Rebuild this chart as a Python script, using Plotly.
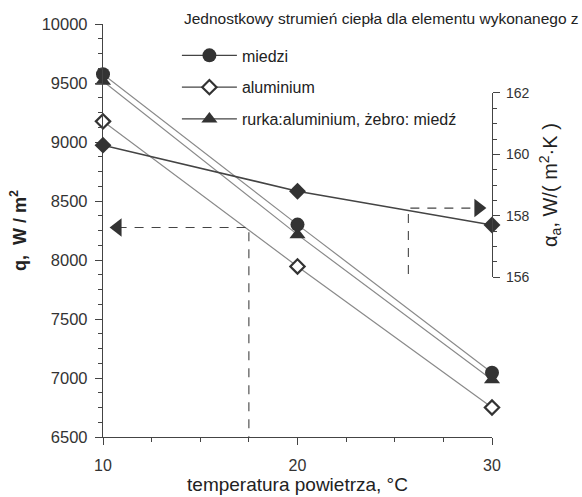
import plotly.graph_objects as go

temp = [10, 20, 30]
q_miedz = [9575, 8300, 7045]
q_alu = [9175, 7945, 6750]
q_rurka = [9515, 8215, 6985]
alpha = [160.3, 158.8, 157.7]

# read-off helper lines (dashed) and arrows
left_read_x = [10.75, 17.5, 17.5]
left_read_q = [8275, 8275, 6500]
right_read_x = [25.7, 25.7, 29.3]
right_read_a = [156.1, 158.25, 158.25]

names = ["miedzi", "aluminium", "rurka:aluminium, żebro: miedź"]
legend_title = "Jednostkowy strumień ciepła dla elementu wykonanego z"

DARK = "#333333"
GRAY = "#8a8a8a"
FONT = "Liberation Sans, Arial, sans-serif"

fig = go.Figure()

# q series
fig.add_trace(go.Scatter(x=temp, y=q_alu, mode="lines+markers", showlegend=False,
                         line=dict(color=GRAY, width=1.2), cliponaxis=False,
                         marker=dict(symbol="diamond", size=11, color="white",
                                     line=dict(color=DARK, width=2.2))))
fig.add_trace(go.Scatter(x=temp, y=q_rurka, mode="lines+markers", showlegend=False,
                         line=dict(color=GRAY, width=1.2), cliponaxis=False,
                         marker=dict(symbol="triangle-up", size=14, color=DARK)))
fig.add_trace(go.Scatter(x=temp, y=q_miedz, mode="lines+markers", showlegend=False,
                         line=dict(color=GRAY, width=1.2), cliponaxis=False,
                         marker=dict(symbol="circle", size=14, color=DARK)))

# alpha series (right axis)
fig.add_trace(go.Scatter(x=temp, y=alpha, yaxis="y2", mode="lines+markers", showlegend=False,
                         line=dict(color="#444444", width=1.6), cliponaxis=False,
                         marker=dict(symbol="diamond", size=13, color=DARK)))

# dashed read-off lines
fig.add_trace(go.Scatter(x=left_read_x, y=left_read_q, mode="lines", showlegend=False,
                         line=dict(color="#444444", width=1.1, dash="9px,8px"), cliponaxis=False))
fig.add_trace(go.Scatter(x=[left_read_x[0]], y=[left_read_q[0]], mode="markers", showlegend=False,
                         cliponaxis=False,
                         marker=dict(symbol="triangle-left", size=16, color=DARK)))
fig.add_trace(go.Scatter(x=right_read_x, y=right_read_a, yaxis="y2", mode="lines", showlegend=False,
                         line=dict(color="#444444", width=1.1, dash="9px,8px"), cliponaxis=False))
fig.add_trace(go.Scatter(x=[right_read_x[-1]], y=[right_read_a[-1]], yaxis="y2", mode="markers",
                         showlegend=False, cliponaxis=False,
                         marker=dict(symbol="triangle-right", size=16, color=DARK)))

# legend entries
leg_markers = [dict(symbol="circle", size=14, color=DARK),
               dict(symbol="diamond", size=11, color="white", line=dict(color=DARK, width=2.2)),
               dict(symbol="triangle-up", size=14, color=DARK)]
for i, (nm, mk) in enumerate(zip(names, leg_markers)):
    fig.add_trace(go.Scatter(x=[None], y=[None], mode="lines+markers", name=nm,
                             legendgroup=f"g{i}", line=dict(color="#444444", width=1.2),
                             marker=mk))

axis_common = dict(showgrid=False, zeroline=False, showline=True, linecolor="#444444",
                   linewidth=1.3, ticks="outside", ticklen=7, tickcolor="#444444")

fig.update_layout(
    width=582, height=497,
    margin=dict(l=103, r=90, t=24, b=60, autoexpand=False),
    paper_bgcolor="white", plot_bgcolor="rgba(0,0,0,0)",
    font=dict(family=FONT, color="#333333"),
    xaxis=dict(range=[10, 30], tickvals=[10, 20, 30], ticklabelstandoff=7,
               tickfont=dict(family=FONT, size=16, color="#333333"),
               minor=dict(dtick=2.5, ticklen=4, ticks="outside", tickcolor="#444444"),
               title=dict(text="temperatura powietrza, °C", standoff=1,
                          font=dict(family=FONT, size=19, color="#222222")),
               **axis_common),
    yaxis=dict(range=[6500, 10000], tickvals=[6500, 7000, 7500, 8000, 8500, 9000, 9500, 10000],
               tickformat="d", ticklabelstandoff=4,
               tickfont=dict(family=FONT, size=16.5, color="#333333"),
               minor=dict(dtick=125, ticklen=4, ticks="outside", tickcolor="#444444"),
               title=dict(text="<b>q,  W / m<sup>2</sup></b>", standoff=10,
                          font=dict(family=FONT, size=18, color="#222222")),
               **axis_common),
    yaxis2=dict(range=[156, 162], domain=[0.387, 0.833], anchor="x", side="right",
                tickvals=[156, 158, 160, 162], ticklabelstandoff=3,
                tickfont=dict(family=FONT, size=14, color="#333333"),
                minor=dict(dtick=0.5, ticklen=4, ticks="outside", tickcolor="#444444"),
                title=dict(text="α<sub>a</sub>, W/( m<sup>2</sup>·K )", standoff=14,
                           font=dict(family=FONT, size=20, color="#222222")),
                **axis_common),
    legend=dict(x=0.19, y=0.965, xanchor="left", yanchor="top",
                bgcolor="rgba(0,0,0,0)", tracegroupgap=8, itemwidth=55,
                font=dict(family=FONT, size=16, color="#222222")),
    annotations=[dict(text=legend_title, xref="paper", yref="paper", x=0.203, y=1.0145,
                      xanchor="left", yanchor="middle", showarrow=False,
                      font=dict(family=FONT, size=15.5, color="#222222"))],
)

fig.write_html("out.html")
